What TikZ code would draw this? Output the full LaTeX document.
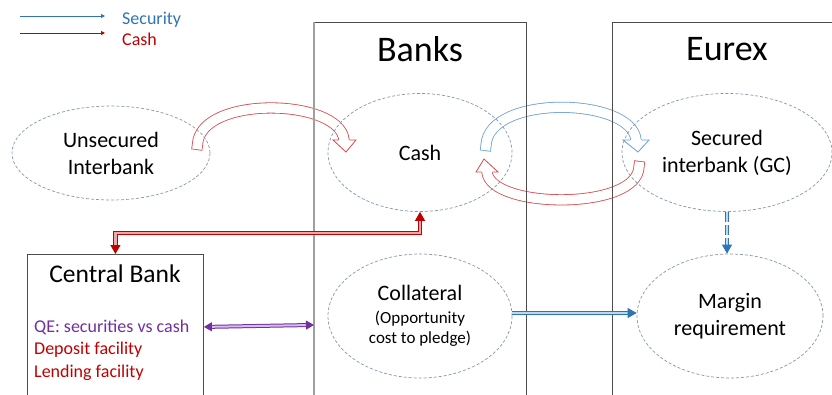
\documentclass[tikz,border=0pt]{standalone}
\usepackage{fontspec}
\setmainfont{Carlito}
\usetikzlibrary{positioning}
\usetikzlibrary{arrows.meta,shapes.geometric}

\definecolor{cashred}{HTML}{C00000}
\definecolor{cashpink}{HTML}{F2A7A7}
\definecolor{arcred}{HTML}{D9474B}
\definecolor{secblue}{HTML}{2E75B6}
\definecolor{arcblue}{HTML}{6A9FD4}
\definecolor{secpale}{HTML}{BDD7EE}
\definecolor{qepurple}{HTML}{7030A0}
\definecolor{qepale}{HTML}{D6BDEA}
\definecolor{ellgray}{HTML}{8497B0}

\tikzset{
  market/.style={ellipse, draw=ellgray, dash pattern=on 3pt off 2pt, line width=0.7pt,
                 align=center, inner sep=0pt, font=\fontsize{22}{27}\selectfont},
  area/.style={rectangle, draw=black!70, line width=0.9pt, anchor=north west, inner sep=0pt},
  hollow/.style={double=white, double distance=9.5pt, line width=0.8pt, line cap=rect},
  tip/.style={-{Triangle[length=9pt,width=10pt]}},
  cashline/.style={draw=cashred, double=cashpink, double distance=2.2pt, line width=1pt},
  secline/.style={draw=secblue, double=secpale, double distance=2.2pt, line width=1pt},
  qeline/.style={draw=qepurple, double=qepale, double distance=2pt, line width=1pt},
  facility/.style={anchor=base west, inner sep=0pt, font=\fontsize{18}{22}\selectfont}
}

\begin{document}
\begin{tikzpicture}[x=1pt, y=-1pt]
  \useasboundingbox (0,0) rectangle (832,394);

 %hollow arcs (drawn first, lines show through them)
  \draw[hollow, arcred] (197.5,144.5) .. controls (200,95) and (340,98) .. (344,140);
  \fill[white] (333,140) -- (346,152) -- (356,140) -- cycle;
  \draw[arcred, line width=0.8pt] (338.5,140) -- (333,140) -- (346,152) -- (356,140) -- (349.5,140);

  \draw[hollow, arcblue] (486,145.5) .. controls (488,94) and (632,97) .. (636,140);
  \fill[white] (623,140) -- (638,152) -- (649,140) -- cycle;
  \draw[arcblue, line width=0.8pt] (630.5,140) -- (623,140) -- (638,152) -- (649,140) -- (641.5,140);

  \draw[hollow, arcred] (639,166.5) .. controls (638,211) and (490,209) .. (487,172);
  \fill[white] (476,172) -- (484,159) -- (498,172) -- cycle;
  \draw[arcred, line width=0.8pt] (481.5,172) -- (476,172) -- (484,159) -- (498,172) -- (492.5,172);

 %boxes
  \node[area, minimum width=212, minimum height=400] (banks) at (314,22) {};
  \draw[gray!75, line width=1.6pt] (banks.north west) -- (banks.south west);
  \node[area, minimum width=230, minimum height=400] (eurex) at (612,22) {};
  \node[area, minimum width=176, minimum height=160] (cbank) at (27,254) {};

  \node[anchor=base, font=\fontsize{36}{40}\selectfont] (bankstitle) at (420,61) {Banks};
  \node[anchor=base, font=\fontsize{36}{40}\selectfont] (eurextitle) at (727,60) {Eurex};
  \node[anchor=base, font=\fontsize{25.5}{30}\selectfont] (cbtitle) at (115,282) {Central Bank};

  \node[facility, text=qepurple] (qe) at (34,332) {QE: securities vs cash};
  \node[facility, text=cashred] (deposit) at (34,354.5) {Deposit facility};
  \node[facility, text=cashred] (lending) at (34,377) {Lending facility};

 %markets
  \node[market, minimum width=198, minimum height=94] (unsec) at (111,153) {Unsecured\\Interbank};
  \node[market, minimum width=184, minimum height=118] (cash) at (420,152.5) {Cash};
  \node[market, minimum width=210, minimum height=118] (secured) at (727,152.5) {Secured\\interbank (GC)};
  \node[market, minimum width=184, minimum height=124, font=\fontsize{17}{20}\selectfont] (collat) at (420,316)
       {{\fontsize{22}{27}\selectfont Collateral}\\[3pt](Opportunity\\cost to pledge)};
  \node[market, minimum width=186, minimum height=124] (margin) at (730,316) {Margin\\requirement};

 %connectors
  \draw[cashline, {Triangle[length=9pt,width=10pt]}-{Triangle[length=9pt,width=10pt]}]
       (cash.south) -- ++(0,21) -| (cbank.north);
  \draw[qeline, {Triangle[length=8pt,width=9pt]}-{Triangle[length=8pt,width=9pt]}]
       (cbank.east |- qe) -- ([yshift=2pt]banks.west |- qe);
  \draw[secline, tip] ([yshift=3pt]collat.east) -- ([yshift=3pt]margin.west);
  \draw[secline, tip, dash pattern=on 10pt off 3pt] (secured.south) -- (secured.south |- margin.north);

 %legend
  \coordinate (seckey) at (20,16);
  \coordinate (cashkey) at (20,33);
  \draw[secblue, line width=1pt, -{Triangle[length=4pt,width=4pt]}] (seckey) -- ++(85,0);
  \draw[cashred, line width=1pt, -{Triangle[length=4pt,width=4pt]}] (cashkey) -- ++(85,0);
  \node[facility, text=secblue] (seclabel) at (122,24) {Security};
  \node[facility, text=cashred] (cashlabel) at (122,45) {Cash};
\end{tikzpicture}
\end{document}
